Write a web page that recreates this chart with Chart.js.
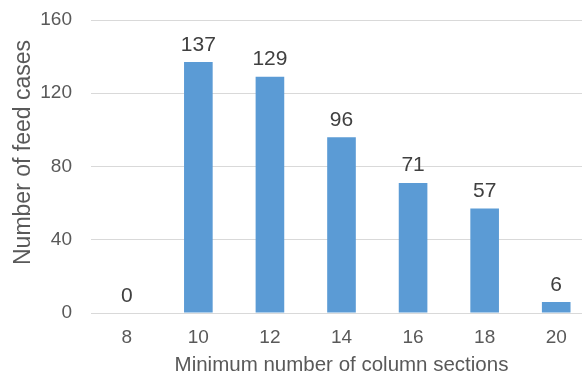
<!DOCTYPE html>
<html>
<head>
<meta charset="utf-8">
<script src="https://cdn.jsdelivr.net/npm/chart.js@4"></script>
<style>
  html, body { margin: 0; padding: 0; background: #ffffff; overflow: hidden; }
  #wrap { width: 592px; height: 376px; }
</style>
</head>
<body>
<div id="wrap"><canvas id="chart" width="592" height="376"></canvas></div>
<script>
// Minimum column sections vs. number of feed cases
const sections = ['8', '10', '12', '14', '16', '18', '20'];
const feedCases = [0, 137, 129, 96, 71, 57, 6];
const yTicks = [0, 40, 80, 120, 160];
const yTitle = 'Number of feed cases';
const xTitle = 'Minimum number of column sections';

const FONT = '"Liberation Sans", Arial, sans-serif';
const TEXT = '#595959';

// Writes each bar's value just above it
const valueLabels = {
  id: 'valueLabels',
  afterDatasetsDraw(chart) {
    const ctx = chart.ctx;
    const meta = chart.getDatasetMeta(0);
    ctx.save();
    ctx.font = '21px ' + FONT;
    ctx.fillStyle = '#404040';
    ctx.textAlign = 'center';
    ctx.textBaseline = 'alphabetic';
    meta.data.forEach((bar, i) => {
      ctx.fillText(String(feedCases[i]), bar.x, bar.y - 11.5);
    });
    ctx.restore();
  }
};

// Vertical axis title, set a little above the plot's middle
const yAxisTitle = {
  id: 'yAxisTitle',
  afterDraw(chart) {
    const ctx = chart.ctx;
    const area = chart.chartArea;
    ctx.save();
    ctx.translate(24, (area.top + area.bottom) / 2 - 14);
    ctx.rotate(-Math.PI / 2);
    ctx.font = '23px ' + FONT;
    ctx.fillStyle = TEXT;
    ctx.textAlign = 'center';
    ctx.textBaseline = 'middle';
    ctx.fillText(yTitle, 0, 0);
    ctx.restore();
  }
};

new Chart(document.getElementById('chart'), {
  type: 'bar',
  data: {
    labels: sections,
    datasets: [{
      data: feedCases,
      backgroundColor: '#5B9BD5',
      borderWidth: 0,
      categoryPercentage: 1,
      barPercentage: 0.4
    }]
  },
  options: {
    responsive: false,
    animation: false,
    devicePixelRatio: 1,
    layout: { padding: { top: 20, right: 0, bottom: 0, left: 0 } },
    plugins: {
      legend: { display: false },
      tooltip: { enabled: false }
    },
    scales: {
      x: {
        offset: true,
        grid: { display: false, drawTicks: false },
        border: { display: false },
        ticks: {
          color: TEXT,
          font: { family: FONT, size: 19 },
          padding: 13,
          maxRotation: 0
        },
        title: {
          display: true,
          text: xTitle,
          color: TEXT,
          font: { family: FONT, size: 20.5, lineHeight: 1 },
          padding: { top: 0, bottom: 0 }
        },
        afterFit(scale) { scale.height = 63; }
      },
      y: {
        min: 0,
        max: 160,
        afterBuildTicks(scale) { scale.ticks = yTicks.map(v => ({ value: v })); },
        // invisible tick marks keep the labels clear of the plot
        grid: { color: '#D9D9D9', lineWidth: 1, drawTicks: true, tickLength: 19, tickColor: 'rgba(0,0,0,0)' },
        border: { display: false },
        ticks: {
          color: TEXT,
          font: { family: FONT, size: 19 },
          padding: 0
        },
        title: { display: false },
        afterFit(scale) { scale.width = 91; }
      }
    }
  },
  plugins: [valueLabels, yAxisTitle]
});
</script>
</body>
</html>
